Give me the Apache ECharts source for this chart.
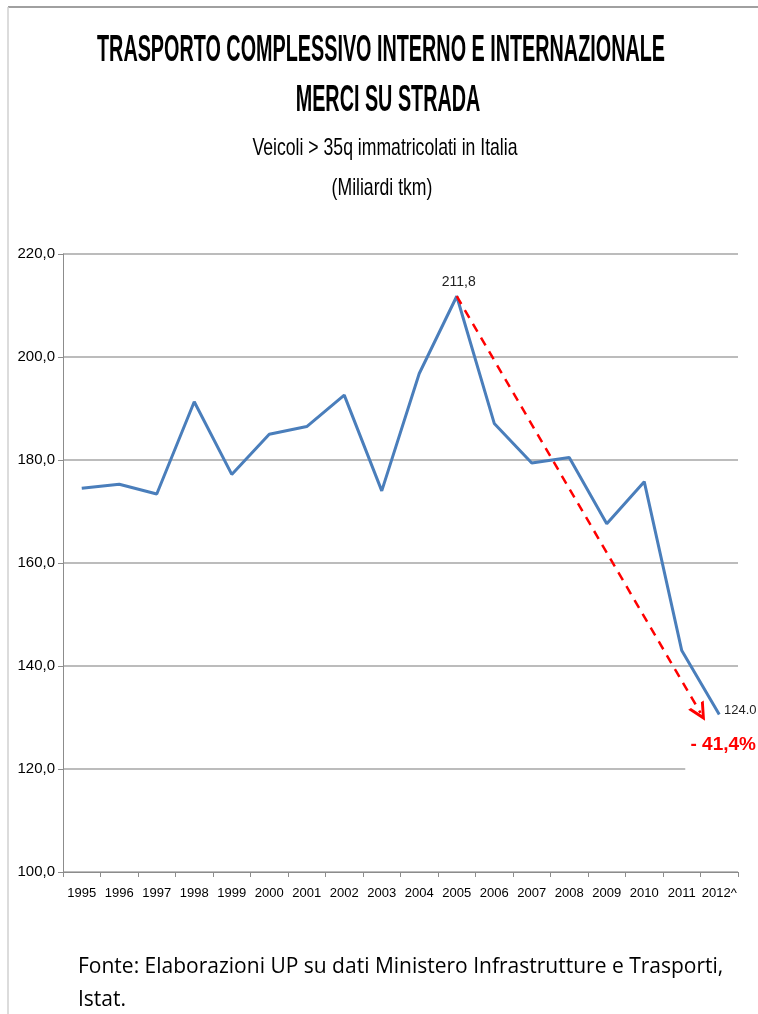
<!DOCTYPE html>
<html>
<head>
<meta charset="utf-8">
<script src="https://cdn.jsdelivr.net/npm/echarts@6/dist/echarts.min.js"></script>
<style>
	html, body { margin: 0; padding: 0; background: #fff; }
	#main { width: 758px; height: 1014px; }
</style>
</head>
<body>
<div id="main"></div>
<script>
// anni (asse x)
var years = ['1995', '1996', '1997', '1998', '1999', '2000', '2001', '2002', '2003',
	'2004', '2005', '2006', '2007', '2008', '2009', '2010', '2011', '2012^'];
// miliardi tkm
var tkm = [174.5, 175.3, 173.4, 191.3, 177.2, 185.0, 186.5, 192.6, 174.0,
	196.8, 211.8, 187.1, 179.4, 180.5, 167.6, 175.8, 143.0, 130.6];
// etichette asse y
var yTicks = [100, 120, 140, 160, 180, 200, 220];
// etichette sui punti
var peakLabel = '211,8';
var lastLabel = '124.0';
var dropLabel = '- 41,4%';
// freccia tratteggiata (inizio / fine, indice anno + valore)
var arrowLine = [[10, 211.8], [16.5, 130.9]];

var titleLines = ['TRASPORTO COMPLESSIVO INTERNO E INTERNAZIONALE', 'MERCI SU STRADA'];
var subLines = ['Veicoli > 35q immatricolati in Italia', '(Miliardi tkm)'];
var fonte = 'Fonte: Elaborazioni UP su dati Ministero Infrastrutture e Trasporti,\nIstat.';

var sans = '"Liberation Sans", Arial, sans-serif';

// larghezza di un testo (per stringere i titoli come nell'originale)
function textWidth(text, font) {
	var ctx = document.createElement('canvas').getContext('2d');
	ctx.font = font;
	return ctx.measureText(text).width;
}

function box_trasporto() {
	var myChart = echarts.init(document.getElementById('main'));

	var titleFont = 'bold 36px "Liberation Sans", Arial, sans-serif';
	var subFont = '24px "Liberation Sans", Arial, sans-serif';
	var titleScale = 568 / textWidth(titleLines[0], titleFont);
	var subScale = 265 / textWidth(subLines[0], subFont);
	var last = tkm.length - 1;
	var peak = 10;

	var option = {
		animation: false,
		grid: {
			left: 63,
			right: 20,
			top: 254,
			bottom: 142
		},
		xAxis: [{
			type: 'category',
			data: years,
			boundaryGap: true,
			axisLine: { lineStyle: { color: '#8c8c8c', width: 1 } },
			axisTick: { show: true, length: 5, lineStyle: { color: '#8c8c8c' } },
			axisLabel: {
				fontFamily: sans,
				fontSize: 13,
				color: '#000',
				margin: 15,
				interval: 0
			}
		}, {
			// asse nascosto per la freccia
			type: 'value',
			min: -0.5,
			max: years.length - 0.5,
			show: false
		}],
		yAxis: {
			type: 'value',
			min: yTicks[0],
			max: yTicks[yTicks.length - 1],
			interval: 20,
			axisLine: { show: true, onZero: false, lineStyle: { color: '#8c8c8c', width: 1 } },
			axisTick: { show: true, length: 5, lineStyle: { color: '#8c8c8c' } },
			splitLine: { lineStyle: { color: '#a6a6a6', width: 1.5 } },
			axisLabel: {
				fontFamily: sans,
				fontSize: 15,
				color: '#000',
				margin: 8,
				formatter: function (v) { return v.toFixed(1).replace('.', ','); }
			}
		},
		series: [{
			type: 'line',
			data: tkm,
			symbol: 'none',
			z: 3,
			lineStyle: { color: '#4a7ebb', width: 3 },
			itemStyle: { color: '#4a7ebb' },
			markPoint: {
				silent: true,
				data: [{
					coord: [last, tkm[last]],
					symbol: 'rect',
					symbolSize: [74, 46],
					symbolOffset: [3, 36],
					itemStyle: { color: '#fff' },
					label: {
						show: true,
						formatter: dropLabel,
						offset: [1, -6],
						fontFamily: sans,
						fontSize: 19,
						fontWeight: 'bold',
						color: '#ff0000'
					}
				}, {
					coord: [last, tkm[last]],
					symbol: 'rect',
					symbolSize: 1,
					itemStyle: { color: 'rgba(0,0,0,0)' },
					label: {
						show: true,
						formatter: lastLabel,
						offset: [21, -4],
						fontFamily: sans,
						fontSize: 13,
						color: '#222'
					}
				}, {
					coord: [peak, tkm[peak]],
					symbol: 'rect',
					symbolSize: 1,
					itemStyle: { color: 'rgba(0,0,0,0)' },
					label: {
						show: true,
						formatter: peakLabel,
						offset: [2, -14],
						fontFamily: sans,
						fontSize: 14,
						color: '#222'
					}
				}]
			}
		}, {
			// freccia tratteggiata rossa
			type: 'line',
			xAxisIndex: 1,
			data: arrowLine,
			symbol: 'none',
			z: 4,
			lineStyle: { opacity: 0 },
			markLine: {
				silent: true,
				symbol: ['none', 'path://M0,10 L5,0 L10,10 L8.2,10 L5,3.6 L1.8,10 Z'],
				symbolSize: 18,
				label: { show: false },
				lineStyle: { color: '#ff0000', type: [9, 7], width: 2.5, opacity: 1 },
				itemStyle: { color: '#ff0000' },
				data: [[{ coord: arrowLine[0] }, { coord: arrowLine[1] }]]
			}
		}],
		graphic: [{
			type: 'line',
			shape: { x1: 8, y1: 7, x2: 758, y2: 7 },
			style: { stroke: '#a0a0a0', lineWidth: 2 }
		}, {
			type: 'line',
			shape: { x1: 8, y1: 7, x2: 8, y2: 1014 },
			style: { stroke: '#d0d0d0', lineWidth: 1.5 }
		}, {
			type: 'text',
			x: 381, y: 51, scaleX: titleScale,
			style: { text: titleLines[0], font: titleFont, fill: '#000', textAlign: 'center', textVerticalAlign: 'middle' }
		}, {
			type: 'text',
			x: 388, y: 101, scaleX: titleScale,
			style: { text: titleLines[1], font: titleFont, fill: '#000', textAlign: 'center', textVerticalAlign: 'middle' }
		}, {
			type: 'text',
			x: 385, y: 148, scaleX: subScale,
			style: { text: subLines[0], font: subFont, fill: '#000', textAlign: 'center', textVerticalAlign: 'middle' }
		}, {
			type: 'text',
			x: 382, y: 188, scaleX: subScale,
			style: { text: subLines[1], font: subFont, fill: '#000', textAlign: 'center', textVerticalAlign: 'middle' }
		}, {
			type: 'text',
			left: 78,
			top: 951,
			style: {
				text: fonte,
				font: '21px "Open Sans", "Noto Sans", sans-serif',
				fill: '#000',
				lineHeight: 33
			}
		}]
	};

	option && myChart.setOption(option);
}

box_trasporto()
</script>
</body>
</html>
